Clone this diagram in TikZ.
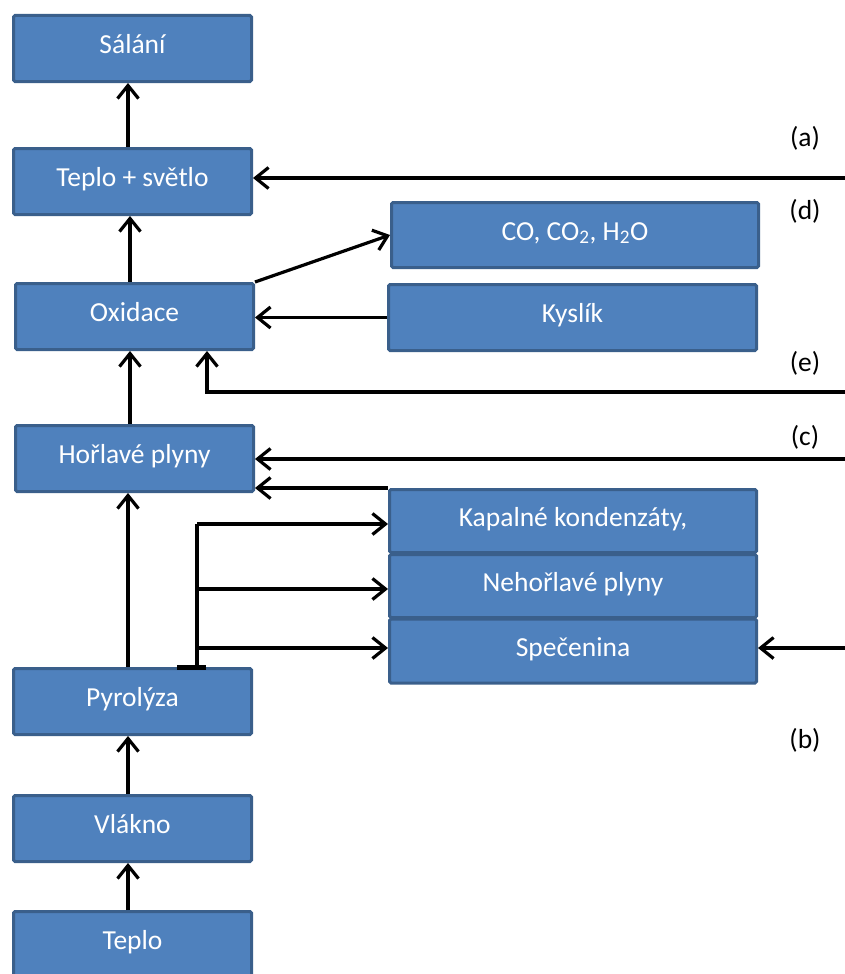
\documentclass[tikz,border=0pt]{standalone}
\usepackage{fontspec}
\setmainfont{Carlito}
\usetikzlibrary{arrows.meta,calc}
\definecolor{boxfill}{HTML}{4F81BD}
\definecolor{boxdraw}{HTML}{3A5F8B}
\tikzset{
  box/.style={draw=boxdraw, fill=boxfill, line width=3pt, rounded corners=1.5pt,
    text=white, inner sep=0pt, minimum width=238pt, minimum height=66pt,
    text height=18pt, text depth=8pt,
    font=\fontsize{27.5}{32}\selectfont},
  rbox/.style={box, minimum width=367pt},
  arr/.style={line width=3.2pt, -{Straight Barb[length=13pt,width=21pt,line width=3.2pt]}},
  ln/.style={line width=3.2pt},
  lbl/.style={font=\fontsize{27.5}{32}\selectfont, inner sep=0pt}
}
\begin{document}
\begin{tikzpicture}[x=1pt,y=-1pt]
\useasboundingbox (0,0) rectangle (845,974);
\clip (0,0) rectangle (845,974);
% left column
\node[box] (sal) at (132.5,48.5) {Sálání};
\node[box] (tep) at (132.5,181.5) {Teplo + světlo};
\node[box] (oxi) at (134.5,316.5) {Oxidace};
\node[box] (hor) at (134.5,458.5) {Hořlavé plyny};
\node[box] (pyr) at (132.5,701.5) {Pyrolýza};
\node[box] (vla) at (132.5,828.5) {Vlákno};
\node[box] (tpl) at (132.5,944.5) {Teplo};
% right column
\node[rbox, minimum width=367pt, minimum height=65pt] (co) at (575,235) {CO, CO\textsubscript{2}, H\textsubscript{2}O};
\node[rbox, minimum width=368pt] (kys) at (572.5,317.5) {Kyslík};
\node[rbox, minimum height=63pt] (kap) at (573,521) {Kapalné kondenzáty,};
\node[rbox, minimum height=63pt] (neh) at (573,586) {Nehořlavé plyny};
\node[rbox, minimum height=64pt] (spe) at (573,651) {Spečenina};
% labels
\node[lbl] (la) at (805,138) {(a)};
\node[lbl] (ld) at (805,211) {(d)};
\node[lbl] (le) at (805,363) {(e)};
\node[lbl] (lc) at (805,437) {(c)};
\node[lbl] (lb) at (805,740) {(b)};
% coordinates
\coordinate (xa) at (128,0);
\coordinate (xb) at (130,0);
\coordinate (ea) at (845,178);
\coordinate (ee) at (845,392);
\coordinate (xe) at (207,0);
\coordinate (ec) at (845,459);
\coordinate (eb) at (845,648);
\coordinate (tr) at (197,0);
% vertical chain
\draw[arr] (tep.north -| xa) -- (sal.south -| xa);
\draw[arr] (oxi.north -| xb) -- (tep.south -| xb);
\draw[arr] (hor.north -| xb) -- (oxi.south -| xb);
\draw[arr] (pyr.north -| xa) -- (hor.south -| xa);
\draw[arr] (vla.north -| xa) -- (pyr.south -| xa);
\draw[arr] (tpl.north -| xa) -- (vla.south -| xa);
% oxidation links
\draw[arr] (oxi.north east) -- (co.west);
\draw[arr] (kys.west) -- (kys.west -| oxi.east);
% incoming from right
\draw[arr] (ea) -- (ea -| tep.east);
\draw[arr] (ee) -- (ee -| xe) -- (oxi.south -| xe);
\draw[arr] (ec) -- (ec -| hor.east);
\draw[arr] (kap.north west) -- (kap.north west -| hor.east);
\draw[arr] (eb) -- (eb -| spe.east);
% pyrolysis branches
\coordinate (t1) at (197,524);
\coordinate (t2) at (197,589);
\coordinate (t3) at (197,648);
\draw[ln] (pyr.north -| tr) -- (t1);
\draw[arr] (t1) -- (t1 -| kap.west);
\draw[arr] (t2) -- (t2 -| neh.west);
\draw[arr] (t3) -- (t3 -| spe.west);
\draw[line width=5pt] (177,667) -- (206,667);
\end{tikzpicture}
\end{document}
